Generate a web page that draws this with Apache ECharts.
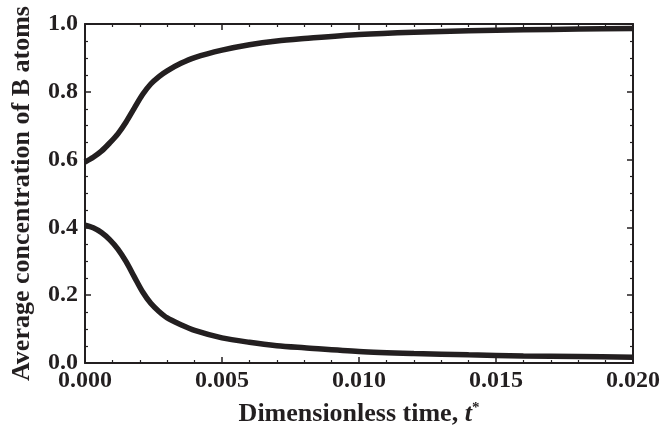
<!DOCTYPE html>
<html>
<head>
<meta charset="utf-8">
<script src="https://cdn.jsdelivr.net/npm/echarts@6/dist/echarts.min.js"></script>
<style>
  html, body { margin: 0; padding: 0; background: #fff; }
  #chart { width: 663px; height: 429px; }
</style>
</head>
<body>
<div id="chart"></div>
<script>
// Dimensionless time samples
const times = [0, 0.0003, 0.0006, 0.0009, 0.0012, 0.0015, 0.0018, 0.0021, 0.0024, 0.0027,
               0.003, 0.0035, 0.004, 0.005, 0.006, 0.007, 0.008, 0.010, 0.012, 0.014,
               0.016, 0.018, 0.020];
// Average concentration of B atoms, B-rich phase
const upperConc = [0.593, 0.607, 0.625, 0.649, 0.676, 0.711, 0.752, 0.792, 0.823, 0.845,
                   0.862, 0.884, 0.901, 0.923, 0.939, 0.950, 0.957, 0.969, 0.976, 0.980,
                   0.983, 0.985, 0.987];
// Average concentration of B atoms, B-poor phase
const lowerConc = [0.407, 0.399, 0.385, 0.364, 0.336, 0.299, 0.254, 0.210, 0.176, 0.152,
                   0.133, 0.113, 0.096, 0.074, 0.061, 0.051, 0.045, 0.034, 0.028, 0.024,
                   0.021, 0.019, 0.017];
const xTicks = ['0.000', '0.005', '0.010', '0.015', '0.020'];
const yTicks = ['0.0', '0.2', '0.4', '0.6', '0.8', '1.0'];

const ink = '#231f20';
const serif = '"Liberation Serif", "DejaVu Serif", serif';

const pair = (xs, ys) => xs.map((x, i) => [x, ys[i]]);

const frameLine = { show: true, onZero: false, lineStyle: { color: ink, width: 2 } };
const tickMajor = { show: true, inside: true, length: 6, lineStyle: { color: ink, width: 1.5 } };
const tickMinor = (n) => ({ show: true, splitNumber: n, length: 3, lineStyle: { color: ink, width: 1.2 } });

const chart = echarts.init(document.getElementById('chart'), null, { renderer: 'canvas' });
chart.setOption({
  animation: false,
  backgroundColor: '#fff',
  grid: { left: 85, right: 30, top: 24, bottom: 66, containLabel: false, outerBoundsMode: 'none' },
  xAxis: [
    {
      type: 'value', min: 0, max: 0.02, interval: 0.005, position: 'bottom',
      axisLine: frameLine, axisTick: tickMajor, minorTick: tickMinor(5),
      splitLine: { show: false },
      axisLabel: {
        color: ink, fontFamily: serif, fontWeight: 'bold', fontSize: 24, margin: 6,
        formatter: (v) => xTicks[Math.round(v / 0.005)]
      },
      name: 'Dimensionless time, {it|t}{sup|*}',
      nameLocation: 'middle', nameGap: 38,
      nameTextStyle: {
        color: ink, fontFamily: serif, fontWeight: 'bold', fontSize: 26,
        rich: {
          it: { fontFamily: serif, fontWeight: 'bold', fontStyle: 'italic', fontSize: 26, color: ink },
          sup: { fontFamily: serif, fontSize: 15, color: ink, verticalAlign: 'top', padding: [0, 0, 12, 0] }
        }
      }
    },
    {
      type: 'value', min: 0, max: 0.02, interval: 0.005, position: 'top',
      axisLine: frameLine, axisTick: tickMajor, minorTick: tickMinor(5),
      splitLine: { show: false }, axisLabel: { show: false }
    }
  ],
  yAxis: [
    {
      type: 'value', min: 0, max: 1, interval: 0.2, position: 'left',
      axisLine: frameLine, axisTick: tickMajor, minorTick: tickMinor(4),
      splitLine: { show: false },
      axisLabel: {
        color: ink, fontFamily: serif, fontWeight: 'bold', fontSize: 24, margin: 7,
        formatter: (v) => yTicks[Math.round(v / 0.2)]
      },
      name: 'Average concentration of B atoms',
      nameLocation: 'middle', nameGap: 50,
      nameTextStyle: { color: ink, fontFamily: serif, fontWeight: 'bold', fontSize: 26 }
    },
    {
      type: 'value', min: 0, max: 1, interval: 0.2, position: 'right',
      axisLine: frameLine, axisTick: tickMajor, minorTick: tickMinor(4),
      splitLine: { show: false }, axisLabel: { show: false }
    }
  ],
  series: [
    {
      type: 'line', xAxisIndex: 0, yAxisIndex: 0, smooth: 0.3, showSymbol: false,
      data: pair(times, upperConc),
      lineStyle: { color: ink, width: 5.5 }
    },
    {
      type: 'line', xAxisIndex: 0, yAxisIndex: 0, smooth: 0.3, showSymbol: false,
      data: pair(times, lowerConc),
      lineStyle: { color: ink, width: 5.5 }
    }
  ]
});
</script>
</body>
</html>
